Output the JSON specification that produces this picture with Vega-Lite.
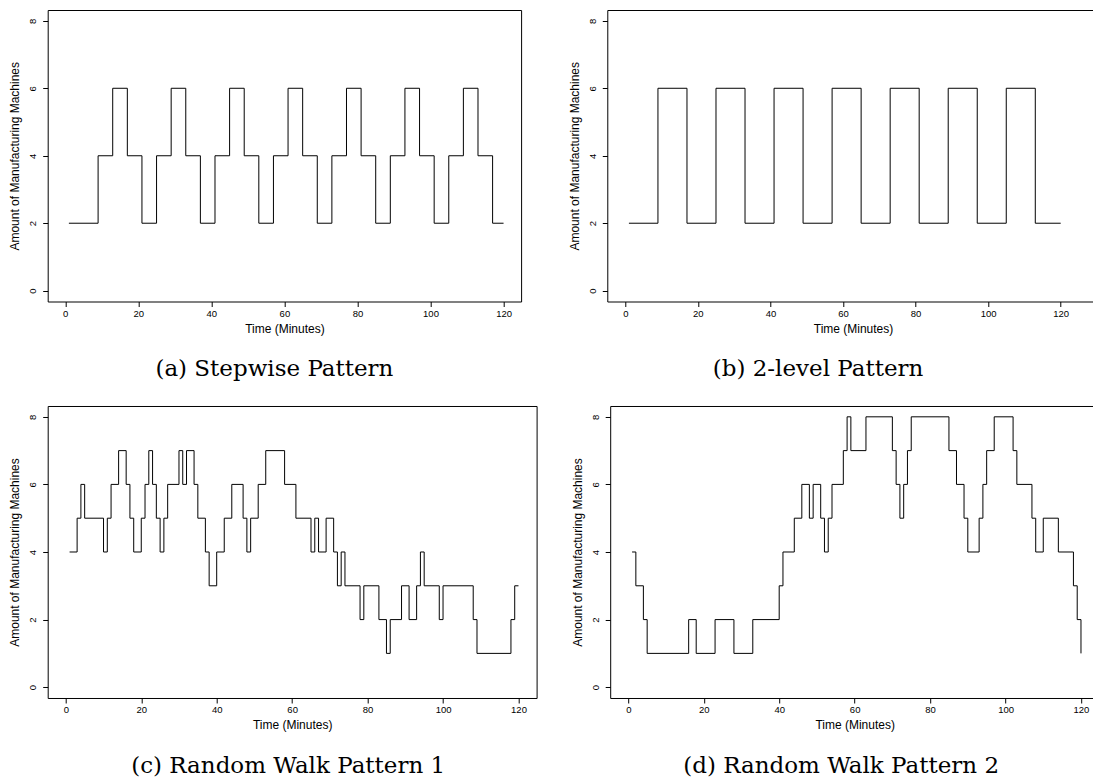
{
  "$schema": "https://vega.github.io/schema/vega-lite/v6.json",
  "background": "white",
  "padding": {"left": 7.7, "top": 9, "right": 0, "bottom": 0},
  "data": {"values": [
    {"p":"a","t":1,"v":2},{"p":"a","t":9,"v":4},{"p":"a","t":13,"v":6},{"p":"a","t":17,"v":4},{"p":"a","t":21,"v":2},{"p":"a","t":25,"v":4},{"p":"a","t":29,"v":6},{"p":"a","t":33,"v":4},{"p":"a","t":37,"v":2},{"p":"a","t":41,"v":4},{"p":"a","t":45,"v":6},{"p":"a","t":49,"v":4},{"p":"a","t":53,"v":2},{"p":"a","t":57,"v":4},{"p":"a","t":61,"v":6},{"p":"a","t":65,"v":4},{"p":"a","t":69,"v":2},{"p":"a","t":73,"v":4},{"p":"a","t":77,"v":6},{"p":"a","t":81,"v":4},{"p":"a","t":85,"v":2},{"p":"a","t":89,"v":4},{"p":"a","t":93,"v":6},{"p":"a","t":97,"v":4},{"p":"a","t":101,"v":2},{"p":"a","t":105,"v":4},{"p":"a","t":109,"v":6},{"p":"a","t":113,"v":4},{"p":"a","t":117,"v":2},{"p":"a","t":120,"v":2},
    {"p":"b","t":1,"v":2},{"p":"b","t":9,"v":6},{"p":"b","t":17,"v":2},{"p":"b","t":25,"v":6},{"p":"b","t":33,"v":2},{"p":"b","t":41,"v":6},{"p":"b","t":49,"v":2},{"p":"b","t":57,"v":6},{"p":"b","t":65,"v":2},{"p":"b","t":73,"v":6},{"p":"b","t":81,"v":2},{"p":"b","t":89,"v":6},{"p":"b","t":97,"v":2},{"p":"b","t":105,"v":6},{"p":"b","t":113,"v":2},{"p":"b","t":120,"v":2},
    {"p":"c","t":1,"v":4},{"p":"c","t":3,"v":5},{"p":"c","t":4,"v":6},{"p":"c","t":5,"v":5},{"p":"c","t":10,"v":4},{"p":"c","t":11,"v":5},{"p":"c","t":12,"v":6},{"p":"c","t":14,"v":7},{"p":"c","t":16,"v":6},{"p":"c","t":17,"v":5},{"p":"c","t":18,"v":4},{"p":"c","t":20,"v":5},{"p":"c","t":21,"v":6},{"p":"c","t":22,"v":7},{"p":"c","t":23,"v":6},{"p":"c","t":24,"v":5},{"p":"c","t":25,"v":4},{"p":"c","t":26,"v":5},{"p":"c","t":27,"v":6},{"p":"c","t":30,"v":7},{"p":"c","t":31,"v":6},{"p":"c","t":32,"v":7},{"p":"c","t":34,"v":6},{"p":"c","t":35,"v":5},{"p":"c","t":37,"v":4},{"p":"c","t":38,"v":3},{"p":"c","t":40,"v":4},{"p":"c","t":42,"v":5},{"p":"c","t":44,"v":6},{"p":"c","t":47,"v":5},{"p":"c","t":48,"v":4},{"p":"c","t":49,"v":5},{"p":"c","t":51,"v":6},{"p":"c","t":53,"v":7},{"p":"c","t":58,"v":6},{"p":"c","t":61,"v":5},{"p":"c","t":65,"v":4},{"p":"c","t":66,"v":5},{"p":"c","t":67,"v":4},{"p":"c","t":69,"v":5},{"p":"c","t":71,"v":4},{"p":"c","t":72,"v":3},{"p":"c","t":73,"v":4},{"p":"c","t":74,"v":3},{"p":"c","t":78,"v":2},{"p":"c","t":79,"v":3},{"p":"c","t":83,"v":2},{"p":"c","t":85,"v":1},{"p":"c","t":86,"v":2},{"p":"c","t":89,"v":3},{"p":"c","t":91,"v":2},{"p":"c","t":93,"v":3},{"p":"c","t":94,"v":4},{"p":"c","t":95,"v":3},{"p":"c","t":99,"v":2},{"p":"c","t":100,"v":3},{"p":"c","t":108,"v":2},{"p":"c","t":109,"v":1},{"p":"c","t":118,"v":2},{"p":"c","t":119,"v":3},{"p":"c","t":120,"v":3},
    {"p":"d","t":1,"v":4},{"p":"d","t":2,"v":3},{"p":"d","t":4,"v":2},{"p":"d","t":5,"v":1},{"p":"d","t":16,"v":2},{"p":"d","t":18,"v":1},{"p":"d","t":23,"v":2},{"p":"d","t":28,"v":1},{"p":"d","t":33,"v":2},{"p":"d","t":40,"v":3},{"p":"d","t":41,"v":4},{"p":"d","t":44,"v":5},{"p":"d","t":46,"v":6},{"p":"d","t":48,"v":5},{"p":"d","t":49,"v":6},{"p":"d","t":51,"v":5},{"p":"d","t":52,"v":4},{"p":"d","t":53,"v":5},{"p":"d","t":54,"v":6},{"p":"d","t":57,"v":7},{"p":"d","t":58,"v":8},{"p":"d","t":59,"v":7},{"p":"d","t":63,"v":8},{"p":"d","t":70,"v":7},{"p":"d","t":71,"v":6},{"p":"d","t":72,"v":5},{"p":"d","t":73,"v":6},{"p":"d","t":74,"v":7},{"p":"d","t":75,"v":8},{"p":"d","t":85,"v":7},{"p":"d","t":87,"v":6},{"p":"d","t":89,"v":5},{"p":"d","t":90,"v":4},{"p":"d","t":93,"v":5},{"p":"d","t":94,"v":6},{"p":"d","t":95,"v":7},{"p":"d","t":97,"v":8},{"p":"d","t":102,"v":7},{"p":"d","t":103,"v":6},{"p":"d","t":107,"v":5},{"p":"d","t":108,"v":4},{"p":"d","t":110,"v":5},{"p":"d","t":114,"v":4},{"p":"d","t":118,"v":3},{"p":"d","t":119,"v":2},{"p":"d","t":120,"v":1}
  ]},
  "spacing": 24,
  "vconcat": [
    {
      "spacing": 45.6,
      "hconcat": [
        {
          "width": 473.4, "height": 291.5,
          "transform": [{"filter": "datum.p == 'a'"}],
          "mark": {"type": "line", "interpolate": "step-after", "color": "black", "strokeWidth": 1},
          "encoding": {
            "x": {"field": "t", "type": "quantitative", "scale": {"domain": [-4.8, 124.8], "nice": false, "zero": false}, "axis": {"values": [0,20,40,60,80,100,120], "title": "Time (Minutes)"}},
            "y": {"field": "v", "type": "quantitative", "scale": {"domain": [-0.32, 8.32], "nice": false, "zero": false}, "axis": {"values": [0,2,4,6,8], "title": "Amount of Manufacturing Machines"}}
          },
          "title": {"text": "(a) Stepwise Pattern", "orient": "bottom", "anchor": "middle", "frame": "group", "dx": -10, "offset": 23.5}
        },
        {
          "width": 491.5, "height": 291.5,
          "transform": [{"filter": "datum.p == 'b'"}],
          "mark": {"type": "line", "interpolate": "step-after", "color": "black", "strokeWidth": 1},
          "encoding": {
            "x": {"field": "t", "type": "quantitative", "scale": {"domain": [-4.96, 130.5], "nice": false, "zero": false}, "axis": {"values": [0,20,40,60,80,100,120], "title": "Time (Minutes)"}},
            "y": {"field": "v", "type": "quantitative", "scale": {"domain": [-0.32, 8.32], "nice": false, "zero": false}, "axis": {"values": [0,2,4,6,8], "title": "Amount of Manufacturing Machines"}}
          },
          "title": {"text": "(b) 2-level Pattern", "orient": "bottom", "anchor": "middle", "frame": "group", "dx": -35, "offset": 23.5}
        }
      ]
    },
    {
      "spacing": 32.5,
      "hconcat": [
        {
          "width": 488.9, "height": 292,
          "transform": [{"filter": "datum.p == 'c'"}],
          "mark": {"type": "line", "interpolate": "step-after", "color": "black", "strokeWidth": 1},
          "encoding": {
            "x": {"field": "t", "type": "quantitative", "scale": {"domain": [-4.8, 124.8], "nice": false, "zero": false}, "axis": {"values": [0,20,40,60,80,100,120], "title": "Time (Minutes)"}},
            "y": {"field": "v", "type": "quantitative", "scale": {"domain": [-0.32, 8.32], "nice": false, "zero": false}, "axis": {"values": [0,2,4,6,8], "title": "Amount of Manufacturing Machines"}}
          },
          "title": {"text": "(c) Random Walk Pattern 1", "orient": "bottom", "anchor": "middle", "frame": "group", "dx": -4, "offset": 25}
        },
        {
          "width": 488.9, "height": 292,
          "transform": [{"filter": "datum.p == 'd'"}],
          "mark": {"type": "line", "interpolate": "step-after", "color": "black", "strokeWidth": 1},
          "encoding": {
            "x": {"field": "t", "type": "quantitative", "scale": {"domain": [-4.8, 124.8], "nice": false, "zero": false}, "axis": {"values": [0,20,40,60,80,100,120], "title": "Time (Minutes)"}},
            "y": {"field": "v", "type": "quantitative", "scale": {"domain": [-0.32, 8.32], "nice": false, "zero": false}, "axis": {"values": [0,2,4,6,8], "title": "Amount of Manufacturing Machines"}}
          },
          "title": {"text": "(d) Random Walk Pattern 2", "orient": "bottom", "anchor": "middle", "frame": "group", "dx": -13.5, "offset": 25}
        }
      ]
    }
  ],
  "config": {
    "view": {"stroke": "black", "strokeWidth": 1, "fill": "white"},
    "axis": {"domain": false, "grid": false, "tickColor": "black", "tickSize": 5, "tickWidth": 1, "labelFont": "Liberation Sans", "labelFontSize": 9.5, "labelColor": "black", "labelPadding": 2, "labelFlush": false, "labelOverlap": false, "titleFont": "Liberation Sans", "titleFontSize": 12, "titleFontWeight": "normal", "titleColor": "black"},
    "axisX": {"titlePadding": 5},
    "axisY": {"labelAngle": -90, "labelAlign": "center", "labelBaseline": "bottom", "labelPadding": 5, "titlePadding": 6},
    "title": {"font": "DejaVu Serif", "fontSize": 23, "fontWeight": "normal", "color": "black"}
  }
}
